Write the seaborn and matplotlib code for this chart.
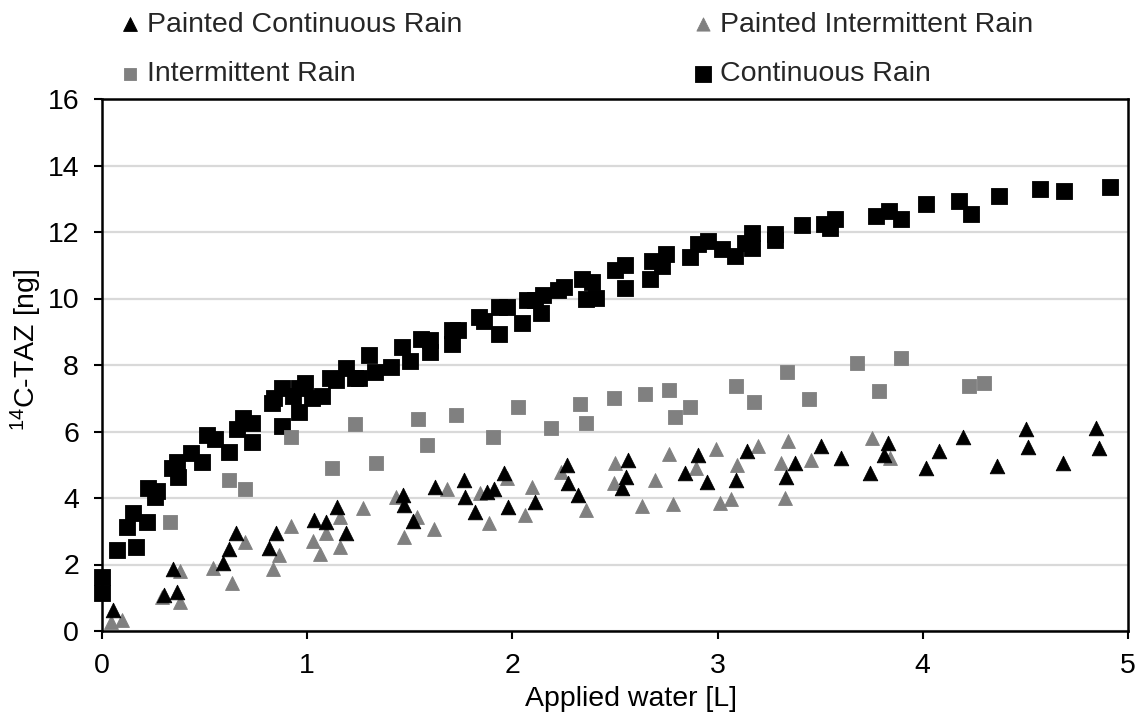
import matplotlib
matplotlib.use("Agg")
import matplotlib.pyplot as plt
import seaborn as sns
import pandas as pd

# ---- data ----
cont_x = [0.0, 0.0, 0.075, 0.12, 0.15, 0.165, 0.22, 0.225, 0.26, 0.27, 0.34, 0.365, 0.37, 0.435,
          0.485, 0.51, 0.55, 0.62, 0.66, 0.685, 0.73, 0.73, 0.83, 0.84, 0.875, 0.875, 0.93, 0.96, 0.96,
          0.99, 1.025, 1.07, 1.11, 1.14, 1.19, 1.235, 1.253, 1.30, 1.33, 1.41, 1.46, 1.50, 1.555, 1.60,
          1.60, 1.705, 1.705, 1.735, 1.835, 1.86, 1.935, 1.935, 1.975, 2.045, 2.07, 2.11, 2.14, 2.15,
          2.22, 2.25, 2.34, 2.36, 2.39, 2.405, 2.50, 2.55, 2.55, 2.67, 2.68, 2.73, 2.75, 2.865, 2.905,
          2.955, 3.02, 3.085, 3.135, 3.17, 3.17, 3.28, 3.28, 3.41, 3.52, 3.55, 3.57, 3.77, 3.835,
          3.895, 4.015, 4.175, 4.235, 4.37, 4.57, 4.69, 4.91]
cont_y = [1.62, 1.14, 2.43, 3.12, 3.54, 2.52, 3.27, 4.29, 4.02, 4.2, 4.9, 5.07, 4.62, 5.34,
          5.07, 5.88, 5.76, 5.37, 6.09, 6.42, 6.27, 5.67, 6.87, 7.0, 7.3, 6.18, 7.08, 6.58, 7.3,
          7.47, 7.0, 7.08, 7.62, 7.55, 7.9, 7.6, 7.6, 8.29, 7.78, 7.93, 8.53, 8.11, 8.77, 8.74,
          8.38, 8.62, 9.04, 9.04, 9.43, 9.33, 8.92, 9.73, 9.73, 9.25, 9.94, 9.94, 9.55, 10.12,
          10.27, 10.36, 10.6, 10.0, 10.51, 10.03, 10.87, 11.0, 10.33, 10.6, 11.14, 10.99, 11.35,
          11.26, 11.65, 11.74, 11.5, 11.29, 11.68, 11.53, 11.98, 11.95, 11.77, 12.22, 12.25,
          12.13, 12.4, 12.49, 12.64, 12.4, 12.85, 12.94, 12.55, 13.09, 13.3, 13.24, 13.36]

inter_x = [0.33, 0.62, 0.695, 0.92, 1.12, 1.235, 1.335, 1.54, 1.585, 1.725, 1.905, 2.025, 2.19,
           2.33, 2.36, 2.495, 2.645, 2.765, 2.865, 2.79, 3.09, 3.175, 3.34, 3.445, 3.68, 3.785,
           3.895, 4.225, 4.30]
inter_y = [3.27, 4.53, 4.26, 5.82, 4.89, 6.24, 5.04, 6.39, 5.58, 6.51, 5.82, 6.75, 6.12,
           6.84, 6.27, 7.02, 7.14, 7.26, 6.75, 6.45, 7.38, 6.9, 7.8, 6.99, 8.07, 7.23,
           8.22, 7.38, 7.45]

pcont_x = [0.053, 0.345, 0.30, 0.365, 0.59, 0.62, 0.655, 0.815, 0.85, 1.035, 1.09, 1.145, 1.19,
           1.465, 1.47, 1.515, 1.625, 1.765, 1.77, 1.82, 1.875, 1.91, 1.96, 1.98, 2.11, 2.265,
           2.27, 2.32, 2.565, 2.555, 2.535, 2.84, 2.905, 2.95, 3.09, 3.145, 3.335, 3.375, 3.505,
           3.60, 3.745, 3.83, 3.81, 4.015, 4.08, 4.195, 4.36, 4.505, 4.515, 4.685, 4.845, 4.86]
pcont_y = [0.63, 1.86, 1.08, 1.17, 2.04, 2.46, 2.94, 2.49, 2.94, 3.33, 3.27, 3.72, 2.94,
           4.08, 3.78, 3.3, 4.32, 4.53, 4.02, 3.57, 4.17, 4.26, 4.74, 3.72, 3.87, 4.98,
           4.44, 4.08, 5.13, 4.62, 4.29, 4.74, 5.28, 4.47, 4.53, 5.4, 4.62, 5.04, 5.55,
           5.19, 4.74, 5.64, 5.28, 4.89, 5.4, 5.82, 4.95, 6.09, 5.52, 5.04, 6.12, 5.49]

pinter_x = [0.043, 0.097, 0.29, 0.38, 0.38, 0.54, 0.635, 0.695, 0.835, 0.865, 0.92, 1.03, 1.06,
            1.09, 1.16, 1.16, 1.27, 1.435, 1.47, 1.535, 1.62, 1.68, 1.84, 1.885, 1.975, 2.06,
            2.095, 2.235, 2.36, 2.50, 2.495, 2.63, 2.695, 2.765, 2.785, 2.895, 2.99, 3.01, 3.065,
            3.095, 3.195, 3.31, 3.33, 3.345, 3.455, 3.75, 3.84]
pinter_y = [0.27, 0.33, 1.02, 1.8, 0.87, 1.89, 1.44, 2.67, 1.86, 2.28, 3.15, 2.7, 2.31,
            2.94, 3.42, 2.52, 3.69, 4.02, 2.82, 3.42, 3.06, 4.26, 4.14, 3.24, 4.59, 3.48,
            4.32, 4.77, 3.63, 5.04, 4.44, 3.75, 4.53, 5.31, 3.81, 4.89, 5.46, 3.84, 3.96,
            4.98, 5.55, 5.04, 4.0, 5.7, 5.13, 5.79, 5.19]

series_names = ["Painted Continuous Rain", "Intermittent Rain",
                "Painted Intermittent Rain", "Continuous Rain"]
x_ticks = [0, 1, 2, 3, 4, 5]
y_ticks = [0, 2, 4, 6, 8, 10, 12, 14, 16]

# ---- build long table ----
frames = []
for name, xs, ys in [("Continuous Rain", cont_x, cont_y),
                     ("Intermittent Rain", inter_x, inter_y),
                     ("Painted Continuous Rain", pcont_x, pcont_y),
                     ("Painted Intermittent Rain", pinter_x, pinter_y)]:
    frames.append(pd.DataFrame({"x": xs, "y": ys, "series": name}))
df = pd.concat(frames, ignore_index=True)

sns.set_theme(style="white")
plt.rcParams["font.family"] = ["Liberation Sans", "DejaVu Sans"]
plt.rcParams["mathtext.fontset"] = "custom"
plt.rcParams["mathtext.rm"] = "Liberation Sans"
plt.rcParams["mathtext.it"] = "Liberation Sans"

FS = 20.5
palette = {"Continuous Rain": "#000000", "Intermittent Rain": "#808080",
           "Painted Continuous Rain": "#000000", "Painted Intermittent Rain": "#808080"}
markers = {"Continuous Rain": "s", "Intermittent Rain": "s",
           "Painted Continuous Rain": "^", "Painted Intermittent Rain": "^"}
sizes = {"Continuous Rain": 140, "Intermittent Rain": 90,
         "Painted Continuous Rain": 110, "Painted Intermittent Rain": 100}

fig = plt.figure(figsize=(11.44, 7.15), dpi=100)
L, R, T, B = 102, 1128, 99, 631
ax = fig.add_axes([L / 1144, (715 - B) / 715, (R - L) / 1144, (B - T) / 715])

for name in ["Continuous Rain", "Intermittent Rain", "Painted Intermittent Rain", "Painted Continuous Rain"]:
    sub = df[df["series"] == name]
    sns.scatterplot(data=sub, x="x", y="y", ax=ax, color=palette[name],
                    marker=markers[name], s=sizes[name], linewidth=0.6,
                    edgecolor=palette[name], label=name, zorder=3, clip_on=False)

ax.set_xlim(0, 5)
ax.set_ylim(0, 16)
ax.set_xticks(x_ticks)
ax.set_yticks(y_ticks)
ax.set_xticklabels([str(v) for v in x_ticks])
ax.set_yticklabels([str(v) for v in y_ticks])
ax.grid(axis="y", color="#d9d9d9", linewidth=1.6, zorder=0)
ax.grid(axis="x", visible=False)
ax.set_axisbelow(True)
for sp in ax.spines.values():
    sp.set_visible(True)
    sp.set_color("black")
    sp.set_linewidth(1.8)
ax.tick_params(axis="both", direction="out", length=5.5, width=1.5, color="black",
               labelsize=FS, labelcolor="black", bottom=True, left=True)
ax.tick_params(axis="x", pad=10)
ax.tick_params(axis="y", pad=11)
ax.set_xlabel("Applied water [L]", fontsize=FS, color="black")
ax.set_ylabel(r"$^{14}$C-TAZ [ng]", fontsize=FS, color="black")
ax.xaxis.set_label_coords((631 - L) / (R - L), (B - 686) / (B - T))
ax.yaxis.set_label_coords((44 - L) / (R - L), (B - 350) / (B - T))

handles, labels = ax.get_legend_handles_labels()
hmap = dict(zip(labels, handles))
ax.get_legend().remove()
leg = fig.legend([hmap[n] for n in series_names], series_names, ncol=2,
                 loc="upper left", bbox_to_anchor=(121.5 / 1144, 1 - 11.5 / 715),
                 frameon=False, fontsize=FS, markerscale=0.95, handlelength=0.6,
                 handletextpad=0.3, columnspacing=8.15, labelspacing=0.84,
                 borderaxespad=0, borderpad=0)

fig.savefig("out.png", dpi=100)
